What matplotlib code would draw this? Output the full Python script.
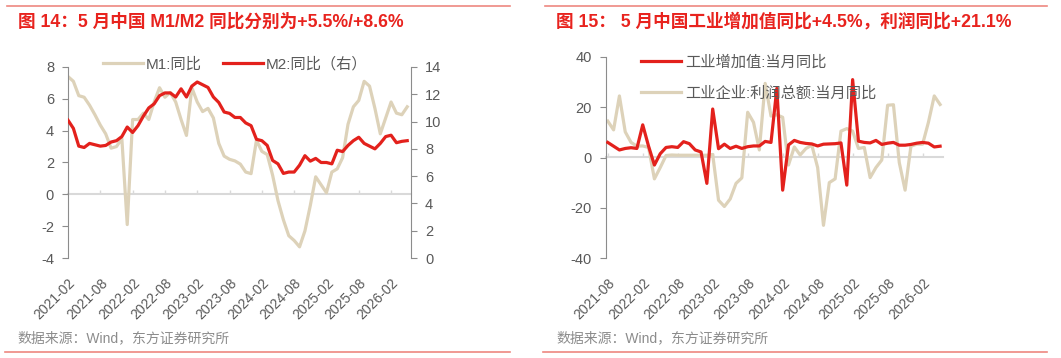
import matplotlib
matplotlib.use("Agg")
import matplotlib.pyplot as plt
import pandas as pd

plt.rcParams['font.family'] = ['Liberation Sans', 'Noto Sans CJK SC', 'DejaVu Sans']
plt.rcParams['axes.unicode_minus'] = False

# ---- 图14 data: M1 / M2 同比 (2021-02 .. 2026-05)
m1 = [7.4, 7.1, 6.2, 6.1, 5.6, 5.0, 4.35, 3.8, 2.9, 3.0,
      3.5, -1.9, 4.7, 4.7, 5.1, 4.7, 5.8, 6.7, 6.1, 6.4,
      5.8, 4.7, 3.7, 6.7, 5.8, 5.2, 5.4, 4.8, 3.2, 2.4,
      2.2, 2.1, 1.9, 1.4, 1.3, 3.4, 2.7, 2.5, 1.2, -0.4,
      -1.6, -2.6, -2.9, -3.3, -2.3, -0.7, 1.1, 0.6, 0.1, 1.4,
      1.6, 2.3, 4.4, 5.5, 5.9, 7.1, 6.8, 5.4, 3.8, 4.8,
      5.8, 5.1, 5.0, 5.5]
m2 = [10.1, 9.5, 8.2, 8.1, 8.4, 8.3, 8.2, 8.25, 8.5, 8.6,
      8.9, 9.6, 9.2, 9.7, 10.4, 11.0, 11.3, 11.9, 12.1, 12.1,
      11.8, 12.4, 11.8, 12.6, 12.9, 12.7, 12.5, 11.8, 11.4, 10.7,
      10.6, 10.3, 10.3, 9.9, 9.7, 8.7, 8.6, 8.25, 7.15, 6.9,
      6.2, 6.3, 6.3, 6.8, 7.5, 7.1, 7.3, 7.0, 7.0, 6.9,
      7.9, 7.8, 8.25, 8.6, 8.85, 8.4, 8.2, 8.0, 8.4, 8.9,
      9.0, 8.45, 8.55, 8.6]
months1 = pd.date_range('2021-02-01', periods=len(m1), freq='MS').strftime('%Y-%m').tolist()

# ---- 图15 data: 工业增加值 / 利润总额 当月同比 (2021-08 .. 2026-05)
iva = [6.0, 4.5, 3.0, 3.6, 3.9, 3.6, 13.0, 4.5, -3.0, 1.5,
       4.0, 4.3, 4.0, 6.3, 5.5, 3.0, 2.2, -10.3, 19.3, 3.5,
       5.3, 3.6, 4.5, 3.6, 4.3, 4.6, 4.6, 6.4, 6.0, 27.5,
       -13.0, 5.0, 6.8, 6.0, 5.6, 5.4, 4.6, 5.3, 5.4, 5.5,
       5.8, -11.0, 31.0, 6.5, 6.0, 5.8, 6.8, 5.2, 5.7, 6.0,
       4.9, 4.9, 5.2, 5.7, 6.0, 5.7, 4.2, 4.5]
profit = [14.5, 11.0, 24.5, 10.2, 6.0, 4.5, 4.6, 4.0, -8.5, -4.0,
          0.8, 1.0, 0.9, 0.9, 0.9, 0.9, 0.9, 0.9, 1.2, -17.0,
          -19.5, -16.5, -10.3, -8.1, 18.0, 14.0, 3.0, 29.5, 16.5, 17.0,
          16.0, -3.0, 4.2, 1.0, 3.6, 4.9, -4.0, -27.0, -10.0, -8.5,
          10.5, 11.5, 10.5, 3.6, 4.0, -8.0, -4.0, -1.0, 20.8, 21.0,
          -2.0, -13.0, 4.5, 5.3, 5.3, 14.0, 24.5, 21.1]
months2 = pd.date_range('2021-08-01', periods=len(iva), freq='MS').strftime('%Y-%m').tolist()

RED = '#E3211C'
BEIGE = '#DDD2B9'
ZERO = '#D9D9D9'
SPINE = '#8C8C8C'
TXT = '#595959'
TITLE_RED = '#E8231E'
RULE = '#EE8880'
W, H = 1061, 358

fig = plt.figure(figsize=(W / 100, H / 100), dpi=100)


def px_axes(x0, y0, x1, y1):
    return fig.add_axes([x0 / W, 1 - y1 / H, (x1 - x0) / W, (y1 - y0) / H])


def zero_ticks(ax, ticks, ylo, yhi):
    sec = ax.secondary_xaxis((0 - ylo) / (yhi - ylo))
    sec.set_xticks(ticks)
    sec.xaxis.set_ticks_position('bottom')
    sec.tick_params(direction='in', length=3, width=1, color=ZERO,
                    labelbottom=False, labeltop=False)
    for s in sec.spines.values():
        s.set_color(ZERO)
        s.set_linewidth(1.5)
    return sec


def style_y(ax, side):
    for s in ['top', 'bottom', 'left', 'right']:
        ax.spines[s].set_visible(s == side)
    ax.spines[side].set_color(SPINE)
    ax.tick_params(axis='y', direction='out', length=4, color=SPINE,
                   labelcolor=TXT, labelsize=10.5, pad=6)


# ================= left panel =================
ax1 = px_axes(68, 67, 411, 258)
ax1b = ax1.twinx()
x1 = list(range(len(m1)))
l_m1, = ax1.plot(x1, m1, color=BEIGE, lw=2.3, solid_joinstyle='round', label='M1:同比')
l_m2, = ax1b.plot(x1, m2, color=RED, lw=2.3, solid_joinstyle='round', label='M2:同比（右）')
ax1.set_ylim(-4, 8)
ax1.set_yticks(range(-4, 9, 2))
ax1b.set_ylim(0, 14)
ax1b.set_yticks(range(0, 15, 2))
ax1.set_xlim(0, 63.7)
ticks1 = list(range(0, len(m1), 6))
ax1.set_xticks(ticks1)
ax1.set_xticklabels([months1[i] for i in ticks1], rotation=45, ha='right',
                    rotation_mode='anchor')
ax1.tick_params(axis='x', length=0, pad=13, labelcolor=TXT, labelsize=10)
style_y(ax1, 'left')
style_y(ax1b, 'right')
zero_ticks(ax1, ticks1, -4, 8)
fig.legend(handles=[l_m1, l_m2], loc='center', bbox_to_anchor=(235 / W, 1 - 64 / H),
           ncol=2, frameon=False, fontsize=11, handlelength=2.6, handletextpad=0.2,
           columnspacing=1.4, labelcolor=TXT, borderpad=0)

# ================= right panel =================
ax2 = px_axes(606, 57, 943, 258)
x2 = list(range(len(iva)))
l_pr, = ax2.plot(x2, profit, color=BEIGE, lw=2.3, solid_joinstyle='round',
                 label='工业企业:利润总额:当月同比', zorder=2)
l_iva, = ax2.plot(x2, iva, color=RED, lw=2.3, solid_joinstyle='round',
                  label='工业增加值:当月同比', zorder=3)
ax2.set_ylim(-40, 40)
ax2.set_yticks(range(-40, 41, 20))
ax2.set_xlim(-0.3, 57.5)
ticks2 = list(range(0, len(iva), 6))
ax2.set_xticks(ticks2)
ax2.set_xticklabels([months2[i] for i in ticks2], rotation=45, ha='right',
                    rotation_mode='anchor')
ax2.tick_params(axis='x', length=0, pad=13, labelcolor=TXT, labelsize=10)
style_y(ax2, 'left')
zero_ticks(ax2, ticks2, -40, 40)
fig.legend(handles=[l_iva, l_pr], loc='upper left', bbox_to_anchor=(641 / W, 1 - 55 / H),
           ncol=1, frameon=False, fontsize=11, handlelength=2.6, handletextpad=0.3,
           labelspacing=1.1, labelcolor=TXT, borderpad=0, borderaxespad=0)

# ================= titles, rules, sources =================
fig.text(18 / W, 1 - 22 / H, '图 14：5 月中国 M1/M2 同比分别为+5.5%/+8.6%',
         color=TITLE_RED, fontsize=12.7, fontweight='bold', va='center', ha='left')
fig.text(556 / W, 1 - 22 / H, '图 15： 5 月中国工业增加值同比+4.5%，利润同比+21.1%',
         color=TITLE_RED, fontsize=12.7, fontweight='bold', va='center', ha='left')
fig.text(17 / W, 1 - 338 / H, '数据来源：Wind，东方证券研究所', color='#8C8C8C',
         fontsize=10, va='center', ha='left')
fig.text(556 / W, 1 - 338 / H, '数据来源：Wind，东方证券研究所', color='#8C8C8C',
         fontsize=10, va='center', ha='left')
for xa, xb in [(7, 510), (545, 1047)]:
    fig.add_artist(plt.Line2D([xa / W, xb / W], [1 - 6 / H, 1 - 6 / H], color=RULE, lw=1.2))
for xa, xb in [(5, 510), (543, 1047)]:
    fig.add_artist(plt.Line2D([xa / W, xb / W], [1 - 352 / H, 1 - 352 / H], color=RULE, lw=1.2))

fig.savefig('out.png', dpi=100)
